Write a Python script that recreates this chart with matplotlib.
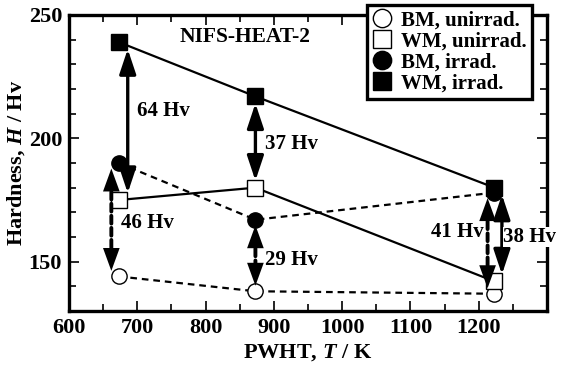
import matplotlib
matplotlib.use("Agg")
import matplotlib.pyplot as plt
from matplotlib.ticker import MultipleLocator, FixedLocator

# PWHT temperature (K)
pwht = [673, 873, 1223]

# Hardness (Hv)
bm_unirrad = [144, 138, 137]
wm_unirrad = [175, 180, 142]
bm_irrad = [190, 167, 178]
wm_irrad = [239, 217, 180]

# hardening arrows: x, from, to, label, dashed?
arrow_x = [686, 662, 873, 873, 1213, 1234]
arrow_top = [239, 190, 217, 167, 178, 180]
arrow_bottom = [175, 144, 180, 138, 137, 142]
arrow_dashed = [False, True, False, True, True, False]
arrow_labels = ["64 Hv", "46 Hv", "37 Hv", "29 Hv", "41 Hv", "38 Hv"]
label_pos = [(699, 211), (676, 165.5), (887, 197.5), (887, 150.5), (1207, 162), (1236, 160)]
label_ha = ["left", "left", "left", "left", "right", "left"]

plt.rcParams["font.family"] = ["Liberation Serif", "DejaVu Serif"]
plt.rcParams["font.weight"] = "bold"
plt.rcParams["mathtext.fontset"] = "custom"
plt.rcParams["mathtext.it"] = "Liberation Serif:italic:bold"
plt.rcParams["mathtext.rm"] = "Liberation Serif:bold"

fig = plt.figure(figsize=(5.63, 3.72), dpi=100)
ax = fig.add_axes([69 / 563, 1 - 311 / 372, (547 - 69) / 563, (311 - 15) / 372])

ms = 11
dash_line = (3, 2.2)
ax.plot(pwht, bm_unirrad, color="k", lw=1.6, dashes=dash_line, marker="o", ms=ms,
        mfc="white", mec="k", mew=1.0, label="BM, unirrad.", zorder=3)
ax.plot(pwht, wm_unirrad, color="k", lw=1.6, marker="s", ms=ms,
        mfc="white", mec="k", mew=1.0, label="WM, unirrad.", zorder=3)
ax.plot(pwht, bm_irrad, color="k", lw=1.6, dashes=dash_line, marker="o", ms=ms,
        mfc="k", mec="k", label="BM, irrad.", zorder=3)
ax.plot(pwht, wm_irrad, color="k", lw=1.6, marker="s", ms=ms,
        mfc="k", mec="k", label="WM, irrad.", zorder=3)

# double headed arrows showing irradiation hardening
for x, y0, y1, dashed in zip(arrow_x, arrow_top, arrow_bottom, arrow_dashed):
    if dashed:
        # dashed shaft, then solid heads without shaft
        ax.annotate("", xy=(x, y1), xytext=(x, y0), zorder=4,
                    arrowprops=dict(arrowstyle="-", color="k", lw=2.8,
                                    linestyle=(0, (2.0, 1.1)), shrinkA=12, shrinkB=12))
        ax.annotate("", xy=(x, y1), xytext=(x, y0), zorder=4,
                    arrowprops=dict(arrowstyle="<|-|>,head_length=1.65,head_width=0.6",
                                    color="k", lw=0, shrinkA=4, shrinkB=4,
                                    mutation_scale=10))
    else:
        ax.annotate("", xy=(x, y1), xytext=(x, y0), zorder=4,
                    arrowprops=dict(arrowstyle="<|-|>,head_length=1.5,head_width=0.5",
                                    color="k", lw=2.4, shrinkA=5, shrinkB=5,
                                    mutation_scale=10))

for text, (tx, ty), ha in zip(arrow_labels, label_pos, label_ha):
    t = ax.text(tx, ty, text, ha=ha, va="center", fontsize=15, fontweight="bold",
                zorder=5, clip_on=False)
    if text == "38 Hv":
        t.set_bbox(dict(facecolor="white", edgecolor="none", pad=0.2))

ax.text(857, 241, "NIFS-HEAT-2", ha="center", va="center", fontsize=15.5, fontweight="bold")

ax.set_xlim(600, 1300)
ax.set_ylim(130, 250)
ax.xaxis.set_major_locator(FixedLocator([600, 700, 800, 900, 1000, 1100, 1200]))
ax.xaxis.set_minor_locator(MultipleLocator(50))
ax.yaxis.set_major_locator(MultipleLocator(50))
ax.yaxis.set_minor_locator(MultipleLocator(10))
ax.tick_params(which="both", direction="in", top=True, right=True, width=1.2)
ax.tick_params(which="major", length=7, labelsize=16, pad=5)
ax.tick_params(which="minor", length=5)
for lab in ax.get_xticklabels() + ax.get_yticklabels():
    lab.set_fontweight("bold")
for sp in ax.spines.values():
    sp.set_linewidth(2.4)

ax.set_xlabel("PWHT, $\\mathit{T}$ / K", fontsize=16, fontweight="bold", labelpad=3)
ax.set_ylabel("Hardness, $\\mathit{H}$ / Hv", fontsize=16, fontweight="bold", labelpad=1)

leg = ax.legend(loc="upper left", bbox_to_anchor=(367 / 563, 1 - 5 / 372),
                bbox_transform=fig.transFigure, borderaxespad=0, frameon=True,
                fancybox=False, edgecolor="k", framealpha=1, fontsize=15,
                handlelength=0.9, handletextpad=0.5, labelspacing=0.05,
                borderpad=0.25, markerscale=1.2)
leg.get_frame().set_linewidth(2.4)
leg.set_zorder(10)
for h in leg.legend_handles:
    h.set_linestyle("none")

fig.savefig("out.png", dpi=100)
plt.close(fig)
